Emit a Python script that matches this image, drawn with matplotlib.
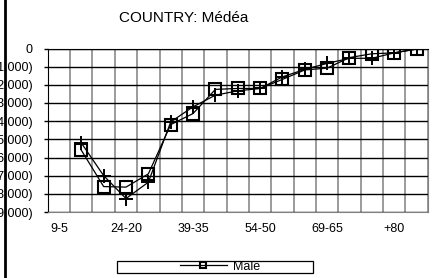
import numpy as np
import matplotlib
matplotlib.use("Agg")
import matplotlib.pyplot as plt
from matplotlib.ticker import FuncFormatter, FixedLocator
from matplotlib.lines import Line2D
from matplotlib.patches import Rectangle

plt.rcParams['font.family'] = ['Liberation Sans', 'DejaVu Sans']

# age groups, one slot each (first slot carries no data)
categories = ["9-5", "14-10", "19-15", "24-20", "29-25", "34-30", "39-35", "44-40",
              "49-45", "54-50", "59-55", "64-60", "69-65", "74-70", "79-75", "+80", ""]
male = [np.nan, -5600, -7600, -7630, -6900, -4190, -3580, -2250, -2200, -2200,
        -1700, -1180, -1080, -500, -290, -240, -30]
other = [np.nan, -5200, -7000, -8260, -7360, -4040, -3210, -2570, -2330, -2200,
         -1560, -1150, -820, -540, -540, -240, -30]
yticks = list(range(0, -9001, -1000))

fig = plt.figure(figsize=(4.41, 2.78), dpi=100)
ax = fig.add_axes([47.8 / 441, 1 - 212 / 278, (427.7 - 47.8) / 441, (212 - 48.5) / 278])

x = np.arange(len(categories))
ax.plot(x, other, color="black", lw=0.9, marker="+", ms=10, mew=1.4, zorder=3)
ax.plot(x, male, color="black", lw=0.9, marker="s", ms=8.3, mfc="none", mew=1.5,
        label="Male", zorder=4)

ax.set_xlim(-0.5, len(categories) - 0.5)
ax.set_ylim(-9000, 0)

# vertical grid at slot boundaries (gray), horizontal grid black
ax.xaxis.set_minor_locator(FixedLocator(np.arange(-0.5, len(categories), 1)))
ax.set_xticks(x[::3])
ax.set_xticklabels(categories[::3], fontsize=9)
ax.tick_params(axis="x", which="both", length=0, pad=8)
ax.grid(True, axis="x", which="minor", color="#808080", lw=1.1)
ax.set_yticks(yticks)
ax.yaxis.set_major_formatter(FuncFormatter(lambda v, p: "0" if v == 0 else "({:,.0f})".format(-v)))
ax.tick_params(axis="y", length=3, width=1, pad=8, labelsize=9)
ax.grid(True, axis="y", color="black", lw=1)
ax.set_axisbelow(True)

for s in ["right", "bottom"]:
    ax.spines[s].set_color("#808080")
ax.spines["left"].set_color("black")
ax.spines["top"].set_color("black")

fig.text(184 / 441, 1 - 18 / 278, "COUNTRY: Médéa", ha="center", va="center", fontsize=11)

# legend with wide frame
fig.patches.append(Rectangle((117 / 441, 1 - 272.5 / 278), 196 / 441, 11.5 / 278,
                             transform=fig.transFigure, fill=False, ec="black", lw=0.9))
fig.legend(loc="center", bbox_to_anchor=(220 / 441, 1 - 266.5 / 278), frameon=False,
           fontsize=9, handlelength=3.8, handletextpad=0.5, borderpad=0, markerscale=0.6)

# left border line
fig.add_artist(Line2D([4.5 / 441, 4.5 / 441], [0, 1], transform=fig.transFigure,
                      color="black", lw=2))

fig.savefig("out.png", dpi=100)
